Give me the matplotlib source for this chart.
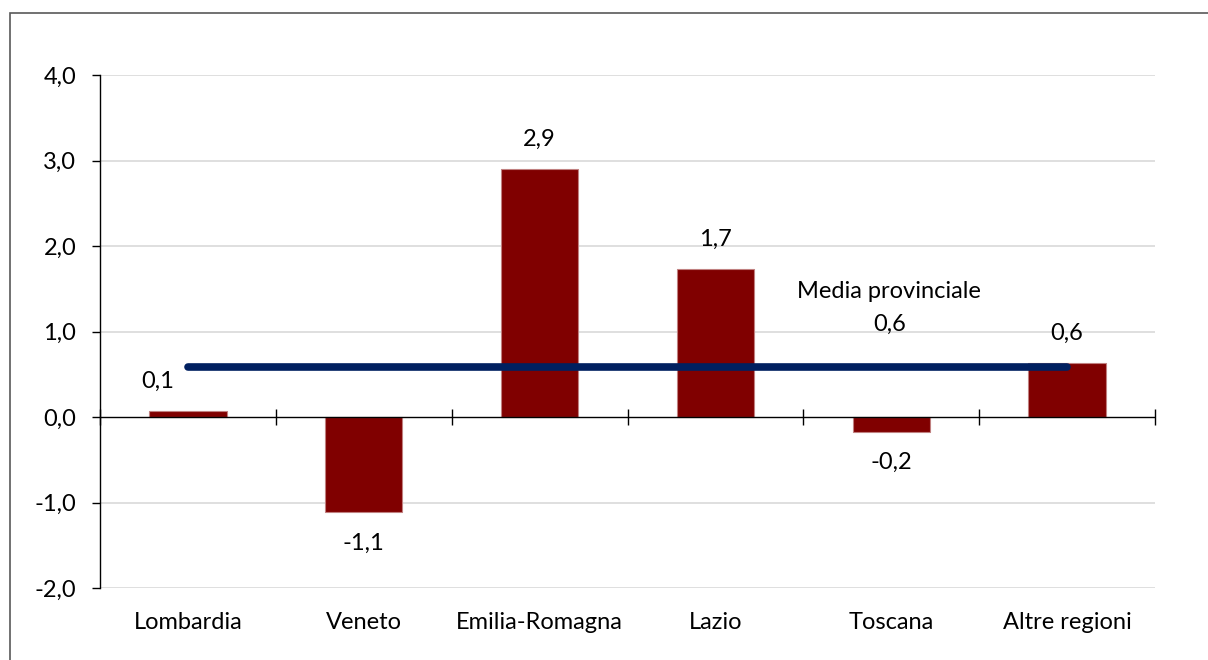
import numpy as np
import matplotlib.pyplot as plt
from matplotlib.patches import Rectangle

# Dati
regioni = ["Lombardia", "Veneto", "Emilia-Romagna", "Lazio", "Toscana", "Altre regioni"]
variazioni = [0.07, -1.11, 2.90, 1.73, -0.17, 0.63]
etichette = ["0,1", "-1,1", "2,9", "1,7", "-0,2", "0,6"]
media_provinciale = 0.585
etichetta_media = "Media provinciale"
valore_media = "0,6"
y_ticks = [-2, -1, 0, 1, 2, 3, 4]
y_labels = ["-2,0", "-1,0", "0,0", "1,0", "2,0", "3,0", "4,0"]

plt.rcParams['font.family'] = ['Lato', 'DejaVu Sans']
FS = 17

fig = plt.figure(figsize=(12.08, 6.6), dpi=100)
ax = fig.add_axes([100/1208, 1 - 588/660, 1055/1208, 513/660])

# cornice esterna
fig.patches.append(Rectangle((10/1208, -0.1), 1.2, 1.1 - 13/660,
                             transform=fig.transFigure, fill=False,
                             edgecolor='#595959', linewidth=1.2))

x = np.arange(len(regioni))
ax.bar(x, variazioni, width=0.44, color='#800000', edgecolor='#C08080',
       linewidth=0.8, zorder=3)

# linea della media
ax.plot([x[0], x[-1]], [media_provinciale, media_provinciale], color='#002060',
        linewidth=5.5, solid_capstyle='round', zorder=4)

# etichette valori
for i, (v, t) in enumerate(zip(variazioni, etichette)):
    dy = 30 if v >= 0 else -31
    dx = -30 if i == 0 else 0
    ax.annotate(t, (i, v), xytext=(dx, dy), textcoords='offset pixels',
                ha='center', va='center', fontsize=FS)

ax.annotate(etichetta_media, (4, media_provinciale), xytext=(-2, 75),
            textcoords='offset pixels', ha='center', va='center', fontsize=FS)
ax.annotate(valore_media, (4, media_provinciale), xytext=(-2, 43),
            textcoords='offset pixels', ha='center', va='center', fontsize=FS)

ax.set_xlim(-0.5, len(regioni) - 0.5)
ax.set_ylim(-2, 4)
ax.set_yticks(y_ticks)
ax.set_yticklabels(y_labels, fontsize=FS)
ax.set_xticks(x)
ax.set_xticklabels(regioni, fontsize=FS)
ax.tick_params(axis='x', length=0, pad=17)
ax.tick_params(axis='y', length=6, width=1, color='black', pad=11)

for s in ['top', 'right', 'bottom']:
    ax.spines[s].set_visible(False)
ax.spines['left'].set_color('black')
ax.spines['left'].set_linewidth(1)

# griglia
for yv in y_ticks:
    if yv != 0:
        ax.axhline(yv, color='#D9D9D9', linewidth=1.2, zorder=1)

# asse dello zero con tacche
ax.axhline(0, color='black', linewidth=1, zorder=5)
confini = np.arange(len(regioni) + 1) - 0.5
ax.plot(confini, np.zeros(len(confini)), linestyle='none', marker='|',
        markersize=12, markeredgewidth=1, color='black', zorder=5, clip_on=False)

fig.savefig('out.png', dpi=100)
